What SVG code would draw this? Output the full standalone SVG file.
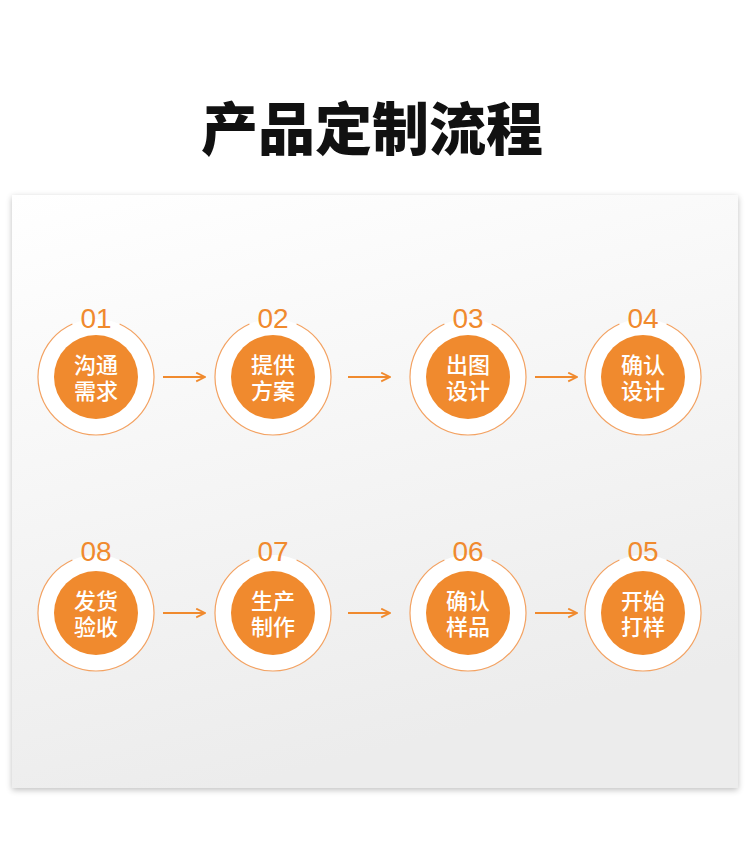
<svg xmlns="http://www.w3.org/2000/svg" width="750" height="850" viewBox="0 0 750 850">
<defs>
<linearGradient id="bg" x1="0" y1="0" x2="0.3" y2="1"><stop offset="0" stop-color="#ffffff"/><stop offset="1" stop-color="#ececec"/></linearGradient>
<filter id="sh" x="-5%" y="-5%" width="110%" height="110%"><feGaussianBlur stdDeviation="3"/></filter>
<marker id="ah" viewBox="0 0 10 10" refX="9" refY="5" markerWidth="11" markerHeight="11" markerUnits="userSpaceOnUse" orient="auto"><path d="M1,1 L9,5 L1,9" fill="none" stroke="#f08a2e" stroke-width="1.6"/></marker>
<path id="ring" d="M23.6,-53 A58,58 0 1 1 -23.6,-53" fill="none" stroke="#f3a262" stroke-width="1.2"/>
</defs>
<style>
.outer{fill:#fff}
.inner{fill:#f08a2e}
.num{font-family:"Liberation Sans","Noto Sans",sans-serif;font-size:28px;fill:#f08a2e;text-anchor:middle}
.lab{font-family:"Noto Sans CJK SC",sans-serif;font-size:22px;font-weight:500;fill:#fff;text-anchor:middle}
.title{font-family:"Noto Sans CJK SC",sans-serif;font-size:57px;font-weight:900;fill:#111;text-anchor:middle}
.conn line{stroke:#f08a2e;stroke-width:2.2;marker-end:url(#ah)}
</style>
<rect width="750" height="850" fill="#fff"/>
<text class="title" x="372" y="150">产品定制流程</text>
<rect x="12" y="197" width="726" height="593" fill="#000" opacity="0.25" filter="url(#sh)"/>
<rect x="12" y="195" width="726" height="593" fill="url(#bg)"/>
<g id="n01" transform="translate(96,377)"><circle class="outer" r="58"/><use href="#ring"/><text class="num" y="-49">01</text><circle class="inner" r="42"/><text class="lab" y="-4">沟通</text><text class="lab" y="22">需求</text></g>
<g id="n02" transform="translate(273,377)"><circle class="outer" r="58"/><use href="#ring"/><text class="num" y="-49">02</text><circle class="inner" r="42"/><text class="lab" y="-4">提供</text><text class="lab" y="22">方案</text></g>
<g id="n03" transform="translate(468,377)"><circle class="outer" r="58"/><use href="#ring"/><text class="num" y="-49">03</text><circle class="inner" r="42"/><text class="lab" y="-4">出图</text><text class="lab" y="22">设计</text></g>
<g id="n04" transform="translate(643,377)"><circle class="outer" r="58"/><use href="#ring"/><text class="num" y="-49">04</text><circle class="inner" r="42"/><text class="lab" y="-4">确认</text><text class="lab" y="22">设计</text></g>
<g id="n08" transform="translate(96,613)"><circle class="outer" r="58"/><use href="#ring"/><text class="num" y="-52">08</text><circle class="inner" r="42"/><text class="lab" y="-4">发货</text><text class="lab" y="22">验收</text></g>
<g id="n07" transform="translate(273,613)"><circle class="outer" r="58"/><use href="#ring"/><text class="num" y="-52">07</text><circle class="inner" r="42"/><text class="lab" y="-4">生产</text><text class="lab" y="22">制作</text></g>
<g id="n06" transform="translate(468,613)"><circle class="outer" r="58"/><use href="#ring"/><text class="num" y="-52">06</text><circle class="inner" r="42"/><text class="lab" y="-4">确认</text><text class="lab" y="22">样品</text></g>
<g id="n05" transform="translate(643,613)"><circle class="outer" r="58"/><use href="#ring"/><text class="num" y="-52">05</text><circle class="inner" r="42"/><text class="lab" y="-4">开始</text><text class="lab" y="22">打样</text></g>
<g class="conn">
<line x1="163" y1="377" x2="205" y2="377"/><line x1="348" y1="377" x2="390" y2="377"/><line x1="535" y1="377" x2="577" y2="377"/>
<line x1="163" y1="613" x2="205" y2="613"/><line x1="348" y1="613" x2="390" y2="613"/><line x1="535" y1="613" x2="577" y2="613"/>
</g>
</svg>
